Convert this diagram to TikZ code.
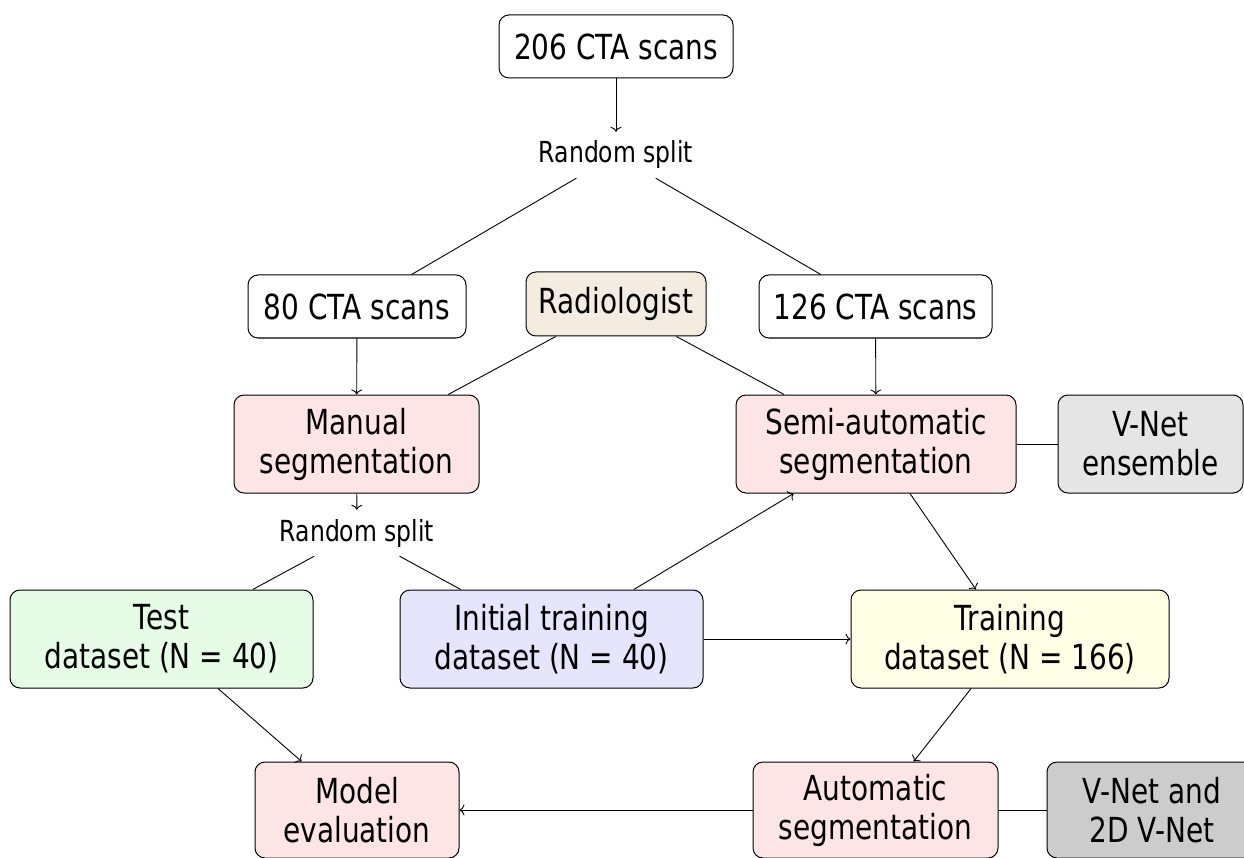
\documentclass[tikz,border=0pt]{standalone}
\usepackage{fontspec}
\setmainfont{DejaVu Sans}[FakeStretch=0.81]
\usetikzlibrary{arrows.meta}
\definecolor{cpink}{RGB}{253,229,230}
\definecolor{cbeige}{RGB}{244,236,225}
\definecolor{cgreen}{RGB}{230,252,230}
\definecolor{cblue}{RGB}{229,229,251}
\definecolor{cyellow}{RGB}{255,255,230}
\definecolor{cgrayl}{RGB}{229,229,229}
\definecolor{cgrayd}{RGB}{204,204,204}
\begin{document}
\begin{tikzpicture}[x=1pt,y=-1pt,
  box/.style={draw=black, line width=1pt, rounded corners=10pt, align=center, inner sep=0pt, font=\fontsize{34.5}{39}\selectfont},
  lbl/.style={font=\fontsize{29}{34}\selectfont, minimum height=46pt, minimum width=200pt, inner sep=0pt},
  conn/.style={line width=0.9pt},
  arr/.style={conn, -{To[length=5pt,width=11pt]}}]
\useasboundingbox (0,0) rectangle (1244,858);

\node[box, minimum width=234pt, minimum height=63pt] (top) at (616,46.5) {206 CTA scans};
\node[lbl] (split) at (616,155) {Random split};
\node[box, minimum width=218pt, minimum height=63pt] (cta80) at (357,306.5) {80 CTA scans};
\node[box, fill=cbeige, minimum width=180pt, minimum height=64pt] (rad) at (616,304) {Radiologist};
\node[box, minimum width=233pt, minimum height=63pt] (cta126) at (875.5,306.5) {126 CTA scans};
\node[box, fill=cpink, minimum width=245pt, minimum height=98pt] (manual) at (356.5,444) {Manual\\segmentation};
\node[box, fill=cpink, minimum width=280pt, minimum height=98pt] (semi) at (876,444) {Semi-automatic\\segmentation};
\node[box, fill=cgrayl, minimum width=185pt, minimum height=98pt] (vens) at (1150.5,444) {V-Net\\ensemble};
\node[lbl] (split2) at (357,533) {Random split};
\node[box, fill=cgreen, minimum width=303pt, minimum height=98pt] (test) at (161.5,639) {Test\\dataset (N = 40)};
\node[box, fill=cblue, minimum width=303pt, minimum height=98pt] (init) at (551.5,639) {Initial training\\dataset (N = 40)};
\node[box, fill=cyellow, minimum width=318pt, minimum height=98pt] (train) at (1010,639) {Training\\dataset (N = 166)};
\node[box, fill=cpink, minimum width=204pt, minimum height=96pt] (model) at (357,810) {Model\\evaluation};
\node[box, fill=cpink, minimum width=245pt, minimum height=96pt] (auto) at (875.5,810) {Automatic\\segmentation};
\node[box, fill=cgrayd, minimum width=210pt, minimum height=96pt] (v2d) at (1152,810) {V-Net and\\2D V-Net};

\draw[arr] (top) -- (split);
\draw[conn] (split) -- (cta80);
\draw[conn] (split) -- (cta126);
\draw[arr] (cta80) -- (manual);
\draw[arr] (cta126) -- (semi);
\draw[conn] (rad) -- (manual);
\draw[conn] (rad) -- (semi);
\draw[conn] (semi) -- (vens);
\draw[arr] (manual) -- (split2);
\draw[conn] (split2) -- (test);
\draw[conn] (split2) -- (init);
\draw[arr] (init) -- (semi);
\draw[arr] (init) -- (train);
\draw[arr] (semi) -- (train);
\draw[arr] (train) -- (auto);
\draw[arr] (test) -- (model);
\draw[arr] (auto) -- (model);
\draw[conn] (auto) -- (v2d);
\end{tikzpicture}
\end{document}
